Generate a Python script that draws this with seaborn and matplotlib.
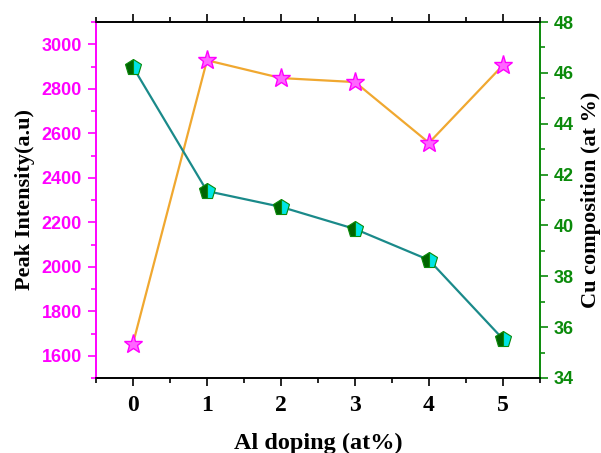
import matplotlib
matplotlib.use("Agg")
import matplotlib.pyplot as plt
import seaborn as sns
import pandas as pd
from matplotlib.ticker import MultipleLocator

# Al doping levels (at%)
al_doping = [0, 1, 2, 3, 4, 5]
# XRD peak intensity (a.u)
peak_intensity = [1655, 2928, 2848, 2830, 2557, 2906]
# Cu composition (at %)
cu_composition = [46.23, 41.35, 40.73, 39.86, 38.64, 35.53]

df = pd.DataFrame({"al": al_doping, "peak": peak_intensity, "cu": cu_composition})

sns.set_theme(style="white")
plt.rcParams["font.family"] = ["Liberation Serif", "DejaVu Serif"]
plt.rcParams["text.color"] = "black"
plt.rcParams["axes.labelcolor"] = "black"

MAGENTA = "#FF00FF"
GREEN = "#0A8A0A"
ORANGE = "#F0A830"
TEAL = "#1A8A8A"

fig = plt.figure(figsize=(6.01, 4.53), dpi=100)
ax = fig.add_axes([96 / 601, 1 - 378 / 453, (540 - 96) / 601, (378 - 22) / 453])
ax2 = ax.twinx()

sns.lineplot(data=df, x="al", y="peak", ax=ax, color=ORANGE, linewidth=1.6,
             marker="*", markersize=14, markerfacecolor="#FF66FF",
             markeredgecolor=MAGENTA, markeredgewidth=1.0)
sns.lineplot(data=df, x="al", y="cu", ax=ax2, color=TEAL, linewidth=1.6,
             marker="p", markersize=12, fillstyle="left",
             markerfacecolor="#006400", markerfacecoloralt="#00E5E5",
             markeredgecolor="#0A8A0A", markeredgewidth=0.8)

ax.set_xlim(-0.5, 5.5)
ax.set_ylim(1500, 3100)
ax2.set_ylim(34, 48)

ax.xaxis.set_major_locator(MultipleLocator(1))
ax.xaxis.set_minor_locator(MultipleLocator(0.5))
ax.yaxis.set_major_locator(MultipleLocator(200))
ax.yaxis.set_minor_locator(MultipleLocator(100))
ax2.yaxis.set_major_locator(MultipleLocator(2))
ax2.yaxis.set_minor_locator(MultipleLocator(1))

for a in (ax, ax2):
    for s in a.spines.values():
        s.set_linewidth(1.2)
        s.set_color("black")
    a.spines["left"].set_color(MAGENTA)
    a.spines["right"].set_color(GREEN)

ax.tick_params(axis="x", which="both", direction="out", bottom=True, top=True,
               colors="black", width=1.2)
ax.tick_params(axis="x", which="major", length=6, labelsize=17, pad=6)
ax.tick_params(axis="x", which="minor", length=3.5)
ax.tick_params(axis="y", which="both", direction="out", left=True, colors=MAGENTA,
               width=1.2)
ax.tick_params(axis="y", which="major", length=6, labelsize=13, pad=4)
ax.tick_params(axis="y", which="minor", length=3.5)
ax2.tick_params(axis="y", which="both", direction="out", right=True, colors=GREEN,
                width=1.2)
ax2.tick_params(axis="y", which="major", length=6, labelsize=13, pad=4)
ax2.tick_params(axis="y", which="minor", length=3.5)

for lbl in ax.get_xticklabels():
    lbl.set_fontweight("bold")
    lbl.set_color("black")
    lbl.set_family(["Liberation Serif", "DejaVu Serif"])
for lbl in ax.get_yticklabels() + ax2.get_yticklabels():
    lbl.set_fontweight("bold")
    lbl.set_family(["Liberation Sans", "DejaVu Sans"])

ax.set_xlabel("Al doping (at%)", fontsize=17.5, fontweight="bold", labelpad=12,
              color="black")
ax.set_ylabel("Peak Intensity(a.u)", fontsize=16, fontweight="bold", labelpad=5,
              color="black")
ax2.set_ylabel("Cu composition (at %)", fontsize=16, fontweight="bold", labelpad=5,
               color="black")
ax.grid(False)
ax2.grid(False)

fig.savefig("out.png", dpi=100)
